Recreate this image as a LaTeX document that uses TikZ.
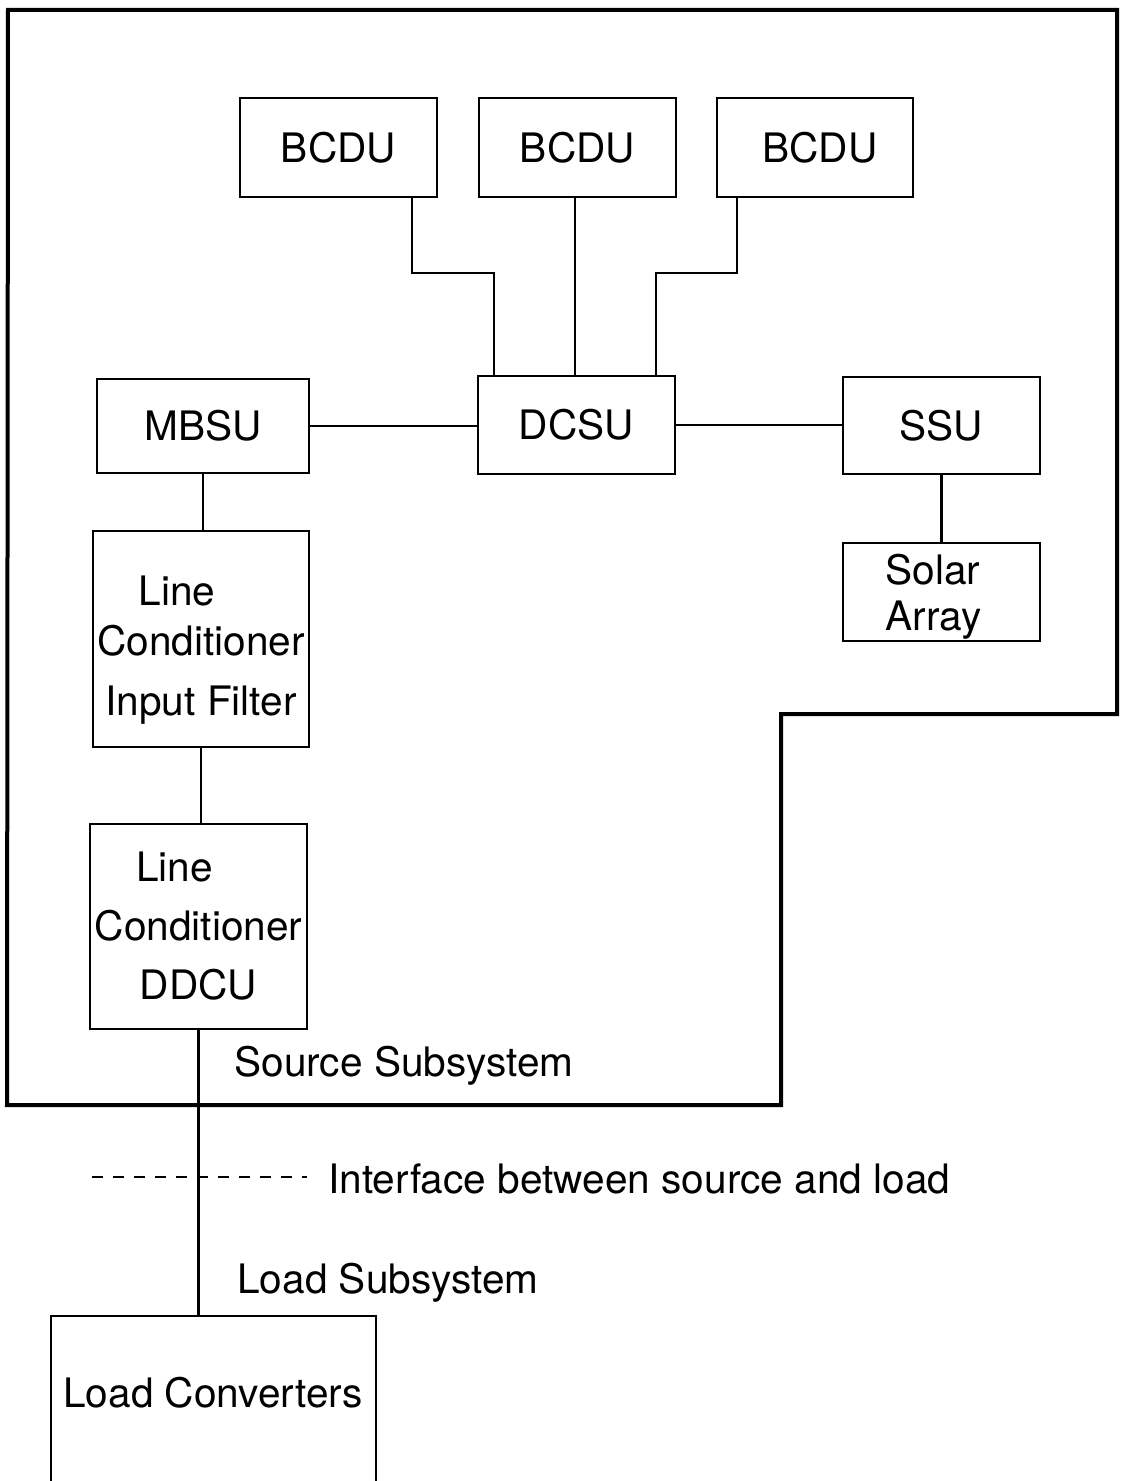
\documentclass[tikz,border=0pt]{standalone}
\usepackage{fontspec}
\setmainfont{TeX Gyre Heros}
\tikzset{
	unit/.style={draw, line width=1.25pt, inner sep=0pt, font=\fontsize{20.3}{29.5}\selectfont},
	wire/.style={line width=1.1pt},
	frame/.style={line width=2pt},
	note/.style={inner sep=0pt, font=\fontsize{20.3}{24}\selectfont}
}
\begin{document}
\begin{tikzpicture}[x=0.5pt, y=-0.5pt]
	\useasboundingbox (0,0) rectangle (1120,1481);
	% source subsystem outline
	\draw[frame] (8,10) -- (1117,10) -- (1117,714) -- (781,714) -- (781,1105) -- (7,1105) -- cycle;
	% units
	\node[unit, minimum width=98.5pt, minimum height=49.5pt] (bcdua) at (338.5,147.5) {BCDU};
	\node[unit, minimum width=98.5pt, minimum height=49.5pt] (bcdub) at (577.5,147.5) {BCDU};
	\node[unit, minimum width=98pt, minimum height=49.5pt] (bcduc) at (815,147.5) {\hspace*{5pt}BCDU};
	\node[unit, minimum width=98.5pt, minimum height=49pt] (dcsu) at (576.5,425) {DCSU};
	\node[unit, minimum width=106pt, minimum height=47pt] (mbsu) at (203,426) {MBSU};
	\node[unit, minimum width=98.5pt, minimum height=48.5pt] (ssu) at (941.5,425.5) {SSU};
	\node[unit, minimum width=98.5pt, minimum height=49pt, align=left, font=\fontsize{20.3}{23}\selectfont] (solar) at (941.5,592) {\rule{0pt}{20pt}Solar\\Array\hspace*{8pt}};
	\node[unit, minimum width=108pt, minimum height=108pt, align=center, font=\fontsize{20.3}{27.5}\selectfont] (lcif) at (201,639) {\rule{0pt}{26pt}Line\hspace*{24pt}\\[-2.5pt]Conditioner\\[2.5pt]Input Filter};
	\node[unit, minimum width=108.5pt, minimum height=102.5pt, align=center] (ddcu) at (198.5,926.5) {Line\hspace*{24pt}\\Conditioner\\DDCU};
	% load converters (cut off at the bottom)
	\draw[unit] (51,1481) |- (376,1316) -- (376,1481);
	\coordinate (lctop) at (198.5,1316);
	\node[note, anchor=base west] (loadconv) at (63,1407) {Load Converters};
	% connectors
	\draw[wire] (bcdua.south -| 412,0) |- (494,273) -- (dcsu.north -| 494,0);
	\draw[wire] (bcdub.south -| 575,0) -- (dcsu.north -| 575,0);
	\draw[wire] (bcduc.south -| 737,0) |- (656,273) -- (dcsu.north -| 656,0);
	\draw[wire] (mbsu.east) -- (mbsu.east -| dcsu.west);
	\draw[wire] (dcsu.east) -- (dcsu.east -| ssu.west);
	\draw[wire] (ssu.south) -- (solar.north);
	\draw[wire] (mbsu.south) -- (mbsu.south |- lcif.north);
	\draw[wire] (lcif.south) -- (lcif.south |- ddcu.north);
	\draw[wire] (ddcu.south) -- (lctop);
	% texts
	\node[note, anchor=base west] (source) at (234,1076) {Source Subsystem};
	\node[note, anchor=base west] (iface) at (328,1193) {Interface between source and load};
	\node[note, anchor=base west] (load) at (237,1293) {Load Subsystem};
	\draw[line width=0.8pt, dash pattern=on 5.5pt off 5pt] (92,1177) -- (307,1177);
\end{tikzpicture}
\end{document}
